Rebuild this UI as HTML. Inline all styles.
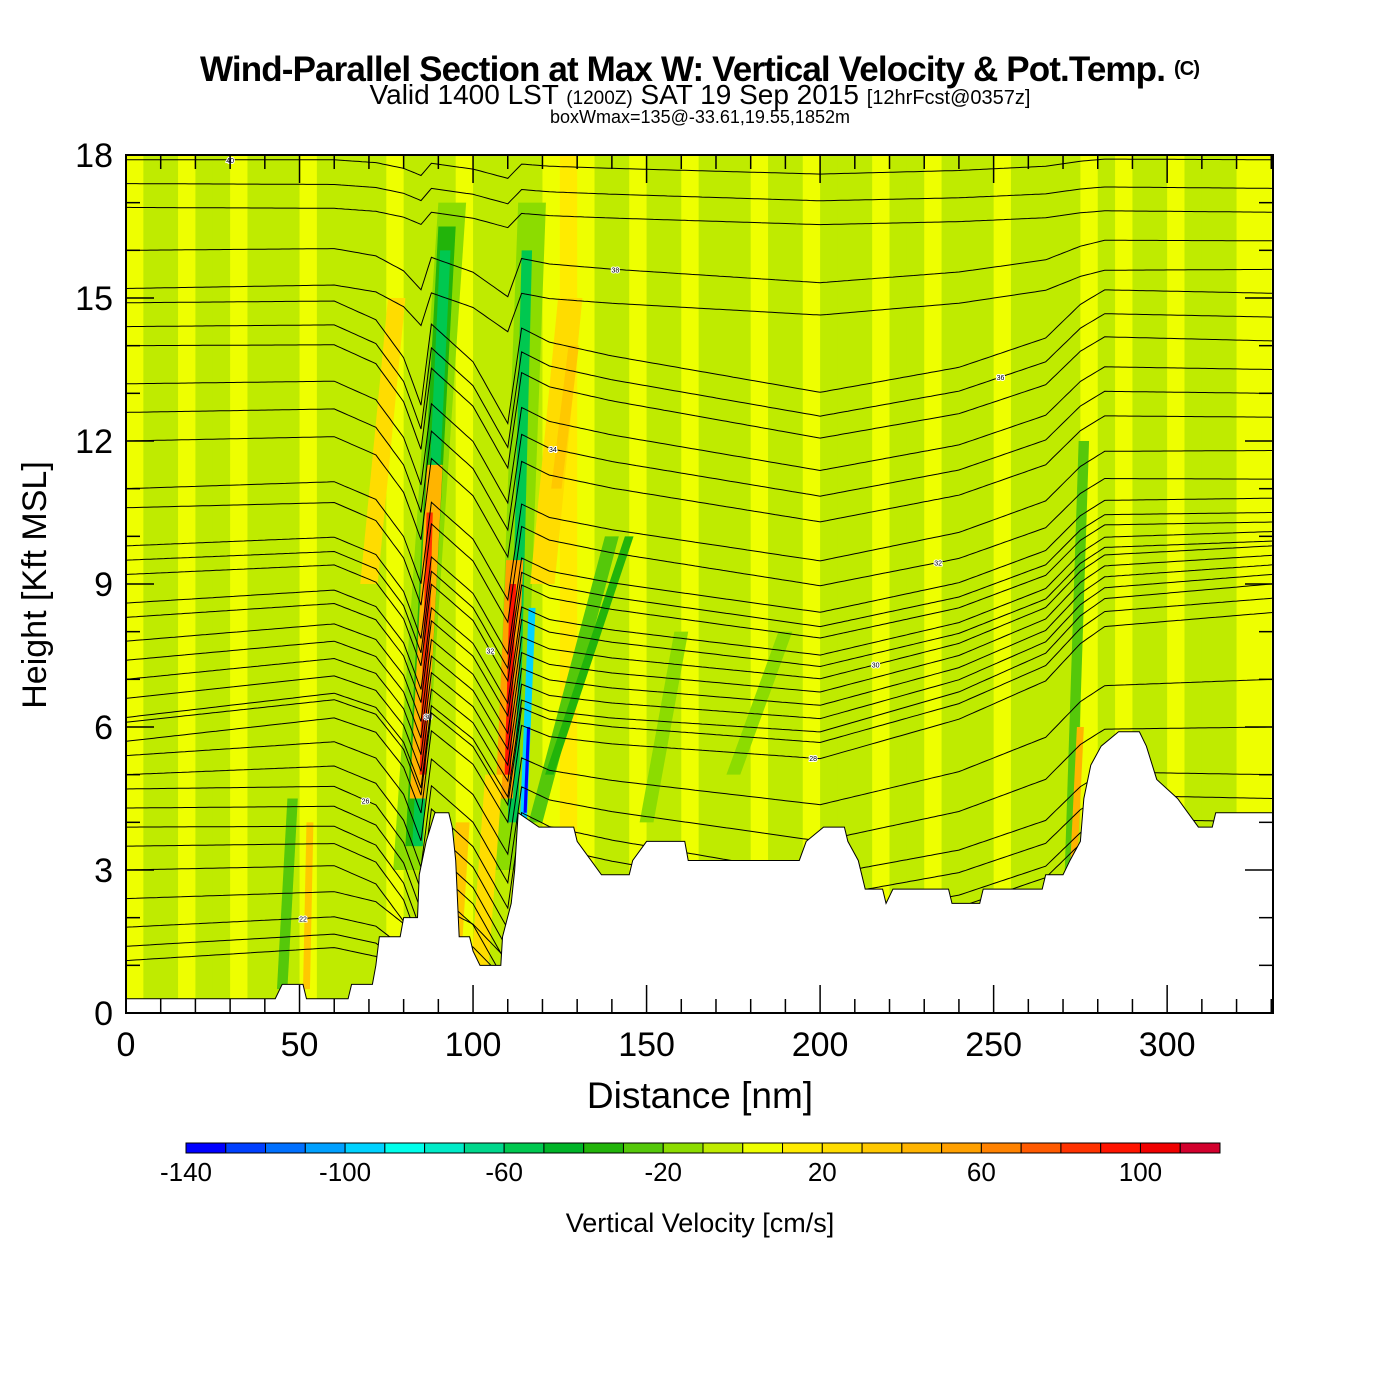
<!DOCTYPE html>
<html><head><meta charset="utf-8"><style>
html,body{margin:0;padding:0;background:#fff;}
svg{display:block;font-family:"Liberation Sans",Arial,sans-serif;}
</style></head><body>
<svg id="chart" width="1400" height="1400" viewBox="0 0 1400 1400">
<rect width="1400" height="1400" fill="#fff"/>
<text x="700" y="81" text-anchor="middle" font-size="35" font-weight="bold" textLength="1000">Wind-Parallel Section at Max W: Vertical Velocity &amp; Pot.Temp. <tspan font-size="20" dy="-6">(C)</tspan></text>
<text x="700" y="104" text-anchor="middle" font-size="28">Valid 1400 LST <tspan font-size="19">(1200Z)</tspan> SAT 19 Sep 2015 <tspan font-size="20">[12hrFcst@0357z]</tspan></text>
<text x="700" y="123" text-anchor="middle" font-size="18">boxWmax=135@-33.61,19.55,1852m</text>
<defs>
<clipPath id="plotClip"><rect x="126" y="155" width="1147" height="858"/></clipPath>
<clipPath id="airClip"><path id="airPath" d=""/></clipPath>
</defs>
<g id="plot" clip-path="url(#plotClip)"></g>
<g id="axes"></g>
<g id="cbar"></g>
<text x="700" y="1108" text-anchor="middle" font-size="37">Distance [nm]</text>
<text transform="translate(46,585) rotate(-90)" text-anchor="middle" font-size="34">Height [Kft MSL]</text>
<text x="700" y="1232" text-anchor="middle" font-size="27">Vertical Velocity [cm/s]</text>
</svg>
<script>
// ---- data ----
const colBins = [-140,-130,-120,-110,-100,-90,-80,-70,-60,-50,-40,-30,-20,-10,0,10,20,30,40,50,60,70,80,90,100,110];
const colTicks = [-140,-100,-60,-20,20,60,100];
const xTicks = [0,50,100,150,200,250,300];
const yTicks = [0,3,6,9,12,15,18];
// background column vertical velocity (every 5 nm from 0)
const bgValues = [5,-5,-5,5,-5,-5,5,-5,-5,-5,5,-5,-5,-5,-5,5,-5,-5,-5,5,-5,-5,-5,-5,5,15,5,-5,-5,5,-5,-5,5,-5,-5,-5,5,-5,-5,5,-5,-5,-5,5,-5,-5,5,-5,-5,-5,5,-5,-5,-5,-5,5,-5,5,-5,-5,5,-5,-5,-5,5,5];
// tilted features: base (nm,kft) -> top (nm,kft), width nm, value cm/s
const featBaseX = [81,83,84.5,84,70,84,85.5,110,111.5,109,110,114.5,115,120,124,118,122,102,95,45,52,272,273,150,175];
const featBaseY = [3,3.5,4,3.5,9,4.5,5,3,4,4.5,5,4,4.2,9,11,4,5,1,1.6,0.5,0.5,3,3,4,5];
const featTopX  = [94,92.5,91,92,78,89,87.5,117,115.5,112,111.5,117,116,128,129,140,145,106,97,48,53,276,275,160,190];
const featTopY  = [17,16.5,14,16,15,11.5,10.5,17,16,9.5,9,8.5,6,15,14,10,10,5,4,4.5,4,12,6,8,8];
const featWidth = [8,5,1.5,3,5,4.5,1.8,8,3,5,1.8,2,0.9,7,3,4,2.5,5,4,3,2,3,2,4,4];
const featValue = [-15,-35,-85,-55,25,45,85,-15,-55,50,95,-95,-135,25,35,-25,-35,25,35,-25,35,-25,45,-15,-15];
// terrain (nm, kft)
const terrX = [0,43,45,51,52,64,65,71,72,73,79,80,84,84.5,86.5,89,93,94,95,96,99,100,102,108,108.5,111,112,113,119,129,130,134,137,145,146,150,161,162,194,196,201,207,208,211,213,218,219,221,237,238,246,247,264,265,270,272,275,276,278,281,286,292,294,297,303,306,309,313,314,331];
const terrH = [0.3,0.3,0.6,0.6,0.3,0.3,0.6,0.6,1.0,1.6,1.6,2.0,2.0,2.9,3.6,4.2,4.2,3.9,3.2,1.6,1.6,1.3,1.0,1.0,1.6,2.3,3.0,4.2,3.9,3.9,3.6,3.2,2.9,2.9,3.2,3.6,3.6,3.2,3.2,3.6,3.9,3.9,3.6,3.2,2.6,2.6,2.3,2.6,2.6,2.3,2.3,2.6,2.6,2.9,2.9,3.2,3.6,4.5,5.2,5.6,5.9,5.9,5.6,4.9,4.5,4.2,3.9,3.9,4.2,4.2];
// potential temperature isentropes: height at left / right edges (kft)
const thetaLeft  = [17.9,17.4,16.9,16.0,15.2,14.9,14.4,14.0,13.2,12.6,12.0,11.0,10.6,9.8,9.5,9.2,8.6,8.3,7.8,7.4,7.0,6.6,6.2,6.1,5.7,5.4,5.0,4.7,4.3,3.9,3.5,3.0,2.4,1.8,1.4,1.1];
const thetaRight = [17.9,17.3,16.8,16.2,15.6,15.1,14.6,14.1,13.5,13.0,12.5,11.8,11.2,10.8,10.5,10.3,10.1,9.9,9.8,9.6,9.4,9.2,9.0,8.7,8.4,7.0,6.0,5.0,4.5,4.0,3.8,3.5,3.2,3.0,2.8,2.6];
// isentrope displacement profile (nm, kft)
const dipX   = [0,60,72,80,85,88,100,110,114,122,140,170,200,240,265,275,282,330];
const dipAmp = [0,0,-0.4,-1.2,-2.2,-0.5,-1.3,-2.6,-0.6,-0.9,-1.2,-1.6,-2.0,-1.5,-0.9,-0.2,0.1,0];
const thetaLabels = [40,40,40,38,38,38,36,36,36,34,34,34,32,32,32,32,32,30,30,30,30,30,28,28,28,28,26,26,26,26,24,24,24,22,22,22];

// ---- scales ----
const X0=126,X1=1273,Y0=1013,Y1=155;
const xs = v => X0 + v*(X1-X0)/330.5;
const ys = v => Y0 - v*(Y0-Y1)/18;
const CB0=186,CB1=1220;
const cbx = v => CB0 + (v+140)*(CB1-CB0)/260;
const palette = ["#0000ff","#0040ff","#0070ff","#00a0ff","#00d2ff","#00ffeb","#00ebc8","#00d78c","#00c850","#00b428","#22b40a","#55c80a","#8cdc00","#bfeb00","#eeff00","#ffeb00","#ffdc00","#ffc800","#ffb400","#ffa000","#ff8200","#ff5a00","#ff3200","#ff1400","#f00000","#d2002d"];
function colorFor(v){let i=0;for(let k=0;k<colBins.length;k++){if(v>=colBins[k])i=k;}return palette[i];}
const NS="http://www.w3.org/2000/svg";
function mk(tag,attrs,parent){const e=document.createElementNS(NS,tag);for(const k in attrs)e.setAttribute(k,attrs[k]);parent.appendChild(e);return e;}
function interp(xa,ya,x){if(x<=xa[0])return ya[0];for(let i=1;i<xa.length;i++){if(x<=xa[i]){const t=(x-xa[i-1])/(xa[i]-xa[i-1]);return ya[i-1]+t*(ya[i]-ya[i-1]);}}return ya[ya.length-1];}

const plot=document.getElementById('plot');
bgValues.forEach((v,i)=>{
  const r=mk('rect',{x:xs(i*5),y:Y1,width:xs(5)-xs(0)+0.5,height:Y0-Y1,fill:colorFor(v)},plot);
  
  
});
featValue.forEach((v,i)=>{
  const hw=featWidth[i]/2;
  const pts=[[featBaseX[i]-hw,featBaseY[i]],[featBaseX[i]+hw,featBaseY[i]],[featTopX[i]+hw,featTopY[i]],[featTopX[i]-hw,featTopY[i]]];
  const p=mk('polygon',{points:pts.map(q=>xs(q[0])+','+ys(q[1])).join(' '),fill:colorFor(v)},plot);
  
  
});
let td='M'+xs(terrX[0])+','+ys(terrH[0]);
let ad='M'+xs(0)+','+ys(18.5)+' L'+xs(terrX[0])+','+ys(terrH[0]);
for(let i=1;i<terrX.length;i++){td+=' L'+xs(terrX[i])+','+ys(terrH[i]);ad+=' L'+xs(terrX[i])+','+ys(terrH[i]);}
td+=' L'+xs(331)+','+(Y0+5)+' L'+xs(0)+','+(Y0+5)+'Z';
ad+=' L'+xs(331)+','+ys(18.5)+'Z';
document.getElementById('airPath').setAttribute('d',ad);
const terr=mk('path',{d:td,fill:'#fff',stroke:'#000','stroke-width':1},plot);


const cg=mk('g',{'clip-path':'url(#airClip)'},plot);


thetaLeft.forEach((hl,i)=>{
  const hr=thetaRight[i];
  const amp = hl>16.5?0.15:(hl>15?0.4:(hl<3?0.6:1));
  let d='';
  for(let x=0;x<=331;x+=1){
    const h=hl+(hr-hl)*x/330+amp*interp(dipX,dipAmp,x);
    d+=(x?' L':'M')+xs(x).toFixed(1)+','+ys(h).toFixed(1);
  }
  const p=mk('path',{d:d,fill:'none',stroke:'#000','stroke-width':1},cg);
  
  
  if(i%3===0){
    const lx=30+(i*37)%240;
    const lh=hl+(hr-hl)*lx/330+amp*interp(dipX,dipAmp,lx);
    const t=mk('text',{x:xs(lx),y:ys(lh)+3,'font-size':7,'text-anchor':'middle',fill:'#000',stroke:'#fff','stroke-width':2,'paint-order':'stroke'},cg);
    t.textContent=thetaLabels[i];
    
    
  }
});
const ax=document.getElementById('axes');
mk('rect',{x:X0,y:Y1,width:X1-X0,height:Y0-Y1,fill:'none',stroke:'#000','stroke-width':2},ax);
for(let v=0;v<=330;v+=10){
  const L=(v%50===0)?28:14;
  mk('line',{x1:xs(v),x2:xs(v),y1:Y0,y2:Y0-L,stroke:'#000','stroke-width':1.5},ax);
  mk('line',{x1:xs(v),x2:xs(v),y1:Y1,y2:Y1+L,stroke:'#000','stroke-width':1.5},ax);
}
for(let v=0;v<=18;v+=1){
  const L=(v%3===0)?28:14;
  mk('line',{x1:X0,x2:X0+L,y1:ys(v),y2:ys(v),stroke:'#000','stroke-width':1.5},ax);
  mk('line',{x1:X1,x2:X1-L,y1:ys(v),y2:ys(v),stroke:'#000','stroke-width':1.5},ax);
}
xTicks.forEach(v=>{const t=mk('text',{x:xs(v),y:1056,'text-anchor':'middle','font-size':34},ax);t.textContent=v;
  });
yTicks.forEach(v=>{const t=mk('text',{x:113,y:ys(v)+12,'text-anchor':'end','font-size':34},ax);t.textContent=v;
  });
const cb=document.getElementById('cbar');
colBins.forEach((v,i)=>{
  const r=mk('rect',{x:cbx(v),y:1143,width:cbx(v+10)-cbx(v),height:10,fill:palette[i],stroke:'#000','stroke-width':1},cb);
  
  
});
colTicks.forEach(v=>{const t=mk('text',{x:cbx(v),y:1181,'text-anchor':'middle','font-size':26},cb);t.textContent=v;
  });
</script>
</body></html>
